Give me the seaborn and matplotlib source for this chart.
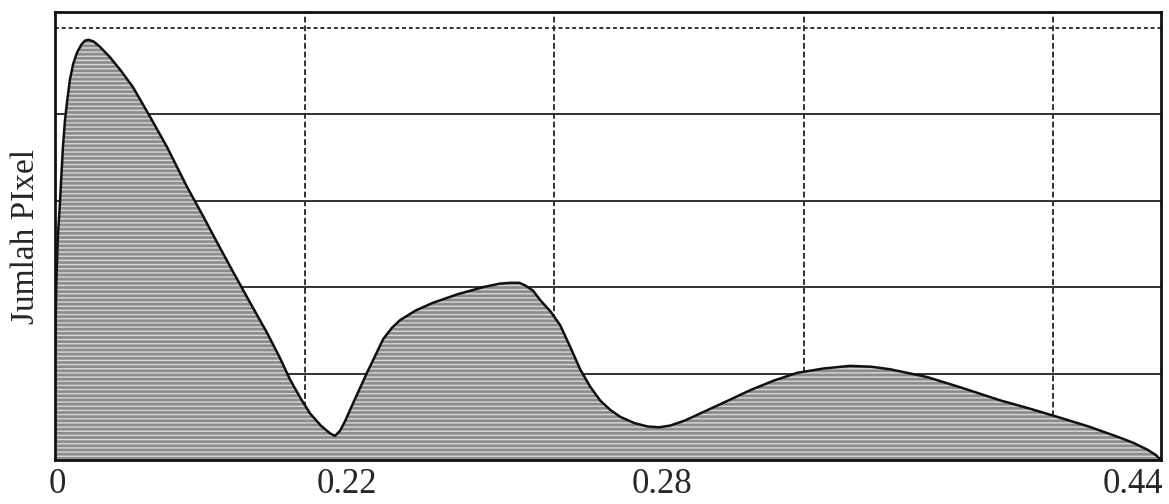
import numpy as np
import pandas as pd
import matplotlib
matplotlib.use('Agg')
import matplotlib.pyplot as plt
import seaborn as sns

# ---------- DATA (grid units) ----------
# x in grid-column units (one vertical grid step = 1), y in grid-row units
x_vals = [0.000, 0.006, 0.012, 0.020, 0.026, 0.032, 0.040, 0.048, 0.060, 0.073,
          0.088, 0.105, 0.120, 0.135, 0.155, 0.180, 0.220, 0.265, 0.313, 0.381,
          0.449, 0.529, 0.590, 0.649, 0.713, 0.780, 0.850, 0.900, 0.942, 0.985,
          1.022, 1.065, 1.102, 1.122, 1.142, 1.162, 1.182, 1.215, 1.250, 1.285,
          1.315, 1.350, 1.383, 1.445, 1.515, 1.615, 1.715, 1.780, 1.824, 1.860,
          1.884, 1.915, 1.944, 1.985, 2.024, 2.064, 2.104, 2.144, 2.184, 2.225,
          2.265, 2.320, 2.373, 2.420, 2.465, 2.525, 2.585, 2.690, 2.786, 2.880,
          2.974, 3.080, 3.186, 3.270, 3.347, 3.495, 3.640, 3.788, 3.900, 4.016,
          4.140, 4.257, 4.320, 4.377, 4.410, 4.430]
y_vals = [1.20, 2.10, 2.60, 2.97, 3.30, 3.62, 3.92, 4.13, 4.40, 4.58,
          4.71, 4.80, 4.85, 4.86, 4.84, 4.78, 4.66, 4.50, 4.31, 3.97,
          3.62, 3.16, 2.84, 2.52, 2.18, 1.83, 1.47, 1.19, 0.93, 0.71,
          0.54, 0.40, 0.31, 0.28, 0.34, 0.45, 0.58, 0.79, 1.01, 1.22,
          1.40, 1.53, 1.62, 1.73, 1.82, 1.92, 2.00, 2.04, 2.05, 2.05,
          2.02, 1.96, 1.85, 1.72, 1.56, 1.31, 1.05, 0.85, 0.69, 0.58,
          0.50, 0.43, 0.39, 0.38, 0.40, 0.46, 0.54, 0.68, 0.81, 0.92,
          1.01, 1.06, 1.09, 1.08, 1.05, 0.96, 0.83, 0.69, 0.60, 0.50,
          0.39, 0.27, 0.20, 0.12, 0.06, 0.00]

tick_pos = [0.01, 1.17, 2.43, 4.32]
tick_labels = ['0', '0.22', '0.28', '0.44']
grid_x = [1, 2, 3, 4]
grid_y = [1, 2, 3, 4]
top_grid_y = 5

df = pd.DataFrame({'x': x_vals, 'y': y_vals})

# ---------- PLOT ----------
sns.set_style('white')
plt.rcParams['font.family'] = ['Liberation Serif', 'DejaVu Serif']

fig = plt.figure(figsize=(11.69, 5.04), dpi=100)
ax = fig.add_axes([0.047, 0.087, 0.946, 0.889])

# grid (drawn under the filled area)
for gy in grid_y:
    ax.axhline(gy, color='#222222', lw=1.3, zorder=1)
ax.axhline(top_grid_y, color='#333333', lw=1.4, ls=(0, (2, 1.5)), zorder=1)
for gx in grid_x:
    ax.axvline(gx, color='#333333', lw=1.4, ls=(0, (3, 1.5)), zorder=1)

ax.fill_between(df['x'], 0, df['y'], facecolor='#8c8c8c', edgecolor='#d8d8d8',
                hatch='----', linewidth=0, zorder=2)
sns.lineplot(data=df, x='x', y='y', color='#111111', lw=1.8, ax=ax, zorder=3,
             sort=False)

ax.set_xlim(0, 4.43)
ax.set_ylim(0, 5.18)
ax.set_xticks(tick_pos)
ax.set_xticklabels(tick_labels, fontsize=25)
ax.tick_params(axis='x', length=0, pad=6)
ax.set_yticks([])
ax.set_xlabel('')
ax.set_ylabel('Jumlah PIxel', fontsize=24, labelpad=10)

for s in ax.spines.values():
    s.set_visible(True)
    s.set_color('#111111')
    s.set_linewidth(2)

fig.savefig('out.png', dpi=100)
